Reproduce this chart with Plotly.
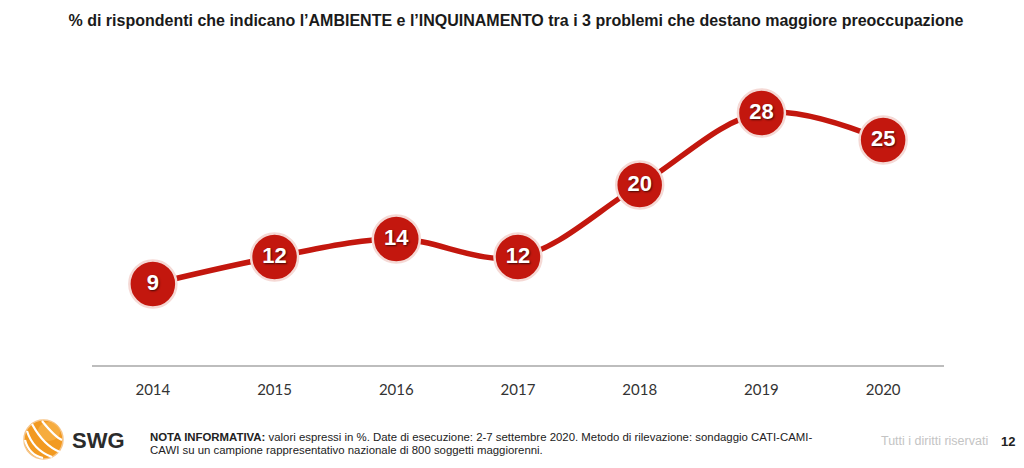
import plotly.graph_objects as go

years = ["2014", "2015", "2016", "2017", "2018", "2019", "2020"]
values = [9, 12, 14, 12, 20, 28, 25]

title = "% di rispondenti che indicano l\u2019AMBIENTE e l\u2019INQUINAMENTO tra i 3 problemi che destano maggiore preoccupazione"
note1 = "<b>NOTA INFORMATIVA:</b> valori espressi in %. Date di esecuzione: 2-7 settembre 2020. Metodo di rilevazione: sondaggio CATI-CAMI-"
note2 = "CAWI su un campione rappresentativo nazionale di 800 soggetti maggiorenni."

RED = "#C3170E"

# The page body has an 8px default margin, so the figure is 8px smaller
W, H = 1016, 460

fig = go.Figure()
fig.add_trace(go.Scatter(
    x=years, y=values, mode="lines",
    line=dict(color=RED, width=5.5, shape="spline", smoothing=1.0),
    hoverinfo="skip", showlegend=False,
))
fig.add_trace(go.Scatter(
    x=years, y=values, mode="markers+text",
    marker=dict(size=47, color=RED, line=dict(color="#F5D9D5", width=2.5)),
    text=[str(v) for v in values], textposition="middle center",
    textfont=dict(family="Liberation Sans, Arial, sans-serif", size=22, color="white",
                  weight="bold", shadow="1px 1px 2px rgba(0,0,0,0.65)"),
    showlegend=False,
))

fig.update_layout(
    width=W, height=H,
    margin=dict(l=84, r=80, t=42, b=103),
    paper_bgcolor="white", plot_bgcolor="white",
    title=dict(text="<b>" + title + "</b>", x=0.5, xanchor="center", y=1 - 12 / H, yanchor="middle",
               font=dict(family="Liberation Sans, Arial", size=16, color="#1a1a1a")),
    xaxis=dict(type="category", range=[-0.5, 6.5], showgrid=False, zeroline=False,
               showline=True, linecolor="#BDBDBD", linewidth=1.5, ticks="",
               tickfont=dict(family="Lato, Liberation Sans, Arial", size=15, color="#333333"),
               ticklabelstandoff=10),
    yaxis=dict(range=[0, 35], visible=False),
)

# helpers: page pixel coords -> paper coords
def px(x):
    return (x - 92) / 852
def py(y):
    return (365 - y) / 315

fig.add_annotation(xref="paper", yref="paper", x=px(148), y=py(437),
                   text=note1, showarrow=False, xanchor="left", yanchor="middle", align="left",
                   font=dict(family="Liberation Sans, Arial", size=11.4, color="#222222"))
fig.add_annotation(xref="paper", yref="paper", x=px(148), y=py(450),
                   text=note2, showarrow=False, xanchor="left", yanchor="middle", align="left",
                   font=dict(family="Liberation Sans, Arial", size=11.4, color="#222222"))
fig.add_annotation(xref="paper", yref="paper", x=px(990), y=py(441),
                   text="Tutti i diritti riservati", showarrow=False, xanchor="right", yanchor="middle",
                   font=dict(family="Liberation Sans, Arial", size=12.5, color="#C4C4C4"))
fig.add_annotation(xref="paper", yref="paper", x=px(999), y=py(441),
                   text="<b>12</b>", showarrow=False, xanchor="left", yanchor="middle",
                   font=dict(family="Liberation Sans, Arial", size=13, color="#222222"))
fig.add_annotation(xref="paper", yref="paper", x=px(70), y=py(440),
                   text="<b>SWG</b>", showarrow=False, xanchor="left", yanchor="middle",
                   font=dict(family="Liberation Sans, Arial", size=22, color="#2b2b2b"))

# Logo: orange sphere with white stripes
fig.add_shape(type="circle", xref="paper", yref="paper",
              x0=px(24), x1=px(63), y0=py(459), y1=py(420),
              fillcolor="#F29A21", line=dict(color="#F7C68A", width=1.5), layer="above")
fig.add_shape(type="circle", xref="paper", yref="paper",
              x0=px(38), x1=px(60), y0=py(441), y1=py(422),
              fillcolor="#F8B44C", line=dict(width=0), layer="above", opacity=0.7)
for (x0, y0, x1, y1, cx, cy) in [(27, 431, 52, 457, 33, 450), (25, 440, 43, 458, 29, 455),
                                 (32, 424, 60, 452, 44, 446), (42, 421, 62, 440, 55, 437)]:
    fig.add_shape(type="path", xref="paper", yref="paper",
                  path=f"M {px(x0)} {py(y0)} Q {px(cx)} {py(cy)} {px(x1)} {py(y1)}",
                  line=dict(color="white", width=2.2), layer="above")

fig.write_html("out.html")
